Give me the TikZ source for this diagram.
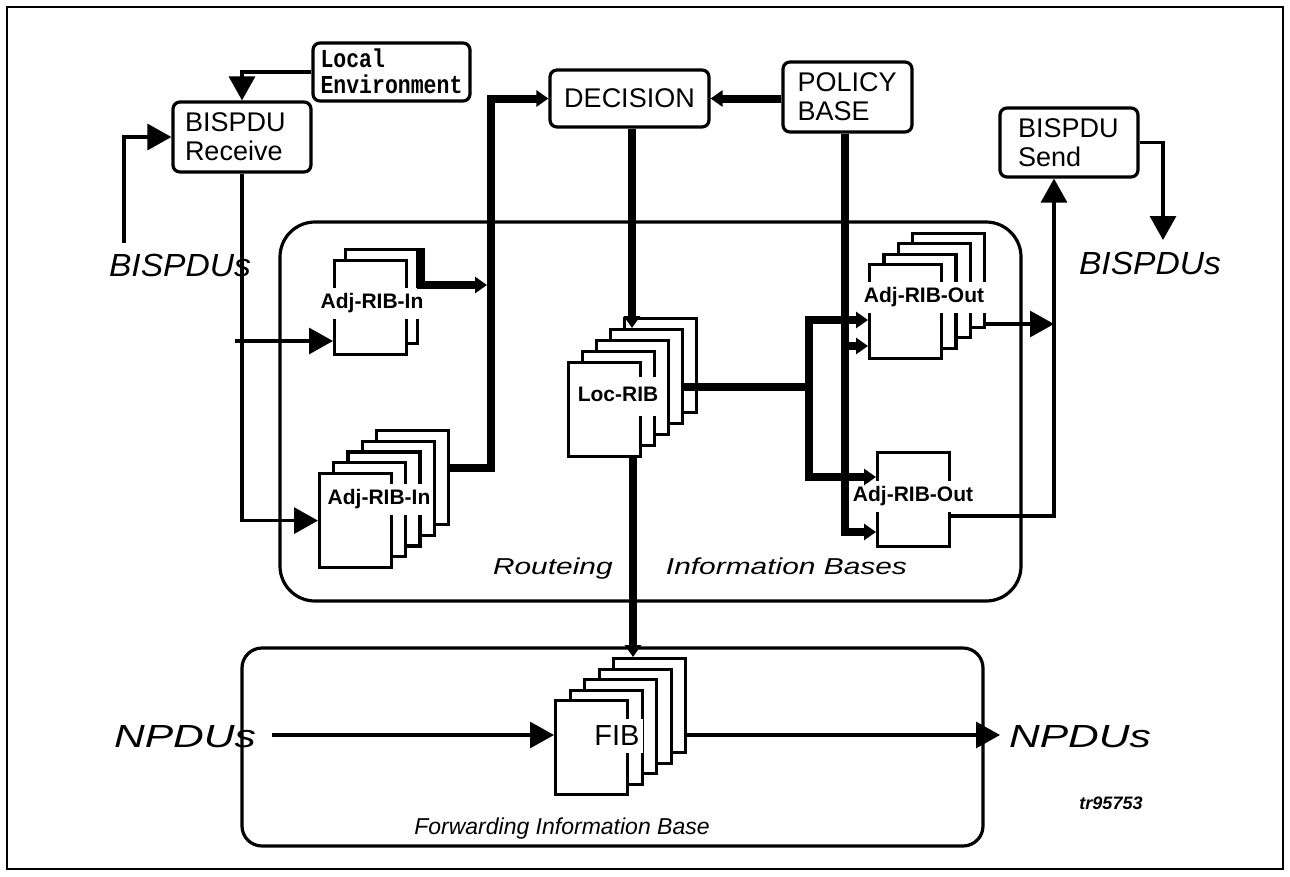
\documentclass[tikz,border=0pt]{standalone}
\usepackage{fontspec}
\usepackage{graphicx}
\setmainfont{Liberation Sans}
\newfontfamily\lemono{Liberation Mono}
\usetikzlibrary{arrows.meta,calc}
\begin{document}
\begin{tikzpicture}[x=1pt,y=-1pt,
  thinline/.style={line width=3.2pt},
  thickline/.style={line width=8pt, line join=miter},
  bigarrow/.style={-{Triangle[length=24pt,width=26pt]}},
  smallarrow/.style={-{Triangle[length=12pt,width=16pt]}},
  box/.style={draw, line width=3.2pt, rounded corners=7pt, fill=white, font=\fontsize{27}{29}\selectfont, inner ysep=0pt},
  ribframe/.style={draw, line width=3.2pt},
  pagebox/.style={draw, line width=3.2pt, fill=white, minimum width=72pt, minimum height=94pt, anchor=north west, inner sep=0pt},
  plabel/.style={fill=white, inner xsep=3pt, inner ysep=6pt, text height=15pt, text depth=4pt, font=\bfseries\fontsize{21}{23}\selectfont},
  itlabel/.style={font=\itshape\fontsize{32}{36}\selectfont, inner sep=0pt},
]
\useasboundingbox (0,0) rectangle (1290,876);
\draw[line width=2.2pt] (7,7) rectangle (1283,869);

% frames
\node[ribframe, rounded corners=35pt, minimum width=741pt, minimum height=379pt] (rib) at (650.5,411.5) {};
\node[ribframe, rounded corners=20pt, minimum width=741pt, minimum height=198pt] (fibbox) at (612.5,747) {};

% boxes
\node[box, minimum width=157pt, minimum height=58pt, inner xsep=0pt] (localenv) at (391.5,72) {};
\node[font=\lemono\bfseries\fontsize{21.5}{21.5}\selectfont, inner sep=0pt] (localtxt) at (391.5,75) {\scalebox{1}[1.2]{\begin{tabular}{@{}l@{}}Local\\Environment\end{tabular}}};
\node[box, minimum height=70pt, text width=114pt, inner xsep=12pt, align=left] (recv) at (242,137) {BISPDU\\Receive};
\node[box, minimum width=159pt, minimum height=57pt, inner xsep=0pt] (dec) at (629.5,98.5) {DECISION};
\node[box, minimum height=70pt, text width=100pt, inner xsep=14.5pt, align=left] (pol) at (847.5,97) {POLICY\\BASE};
\node[box, minimum height=69pt, text width=102pt, inner xsep=18pt, align=left] (send) at (1069,142.5) {BISPDU\\Send};

% stacks
\foreach \i in {1,0} {\node[pagebox] (ainA\i) at ({333+11*\i},{259-11*\i}) {};}
\foreach \i in {4,3,2,1,0} {\node[pagebox] (ainB\i) at ({318+14.2*\i},{472-10.8*\i}) {};}
\foreach \i in {4,3,2,1,0} {\node[pagebox] (loc\i) at ({567+14*\i},{361-11*\i}) {};}
\foreach \i in {3,2,1,0} {\node[pagebox] (aoA\i) at ({868+14.3*\i},{263-10.5*\i}) {};}
\node[pagebox] (aoB) at (876,451) {};
\foreach \i in {4,3,2,1,0} {\node[pagebox] (fib\i) at ({554+14.5*\i},{699-10.5*\i}) {};}

% stack labels
\node[plabel] (ainAlab) at (372,303) {Adj-RIB-In};
\node[plabel] (ainBlab) at (379,499) {Adj-RIB-In};
\node[plabel, inner ysep=10pt] (loclab) at (618,396) {Loc-RIB};
\node[plabel] (aoAlab) at (924,297) {Adj-RIB-Out};
\node[plabel] (aoBlab) at (913,496) {Adj-RIB-Out};
\node[fill=white, inner xsep=3pt, inner ysep=7pt, font=\fontsize{29}{31}\selectfont] (fiblab) at (617,736) {FIB};

% free labels
\node[itlabel] (bisL) at (180,265) {\scalebox{1.05}[1]{BISPDUs}};
\node[itlabel] (bisR) at (1150,263.5) {\scalebox{1.05}[1]{BISPDUs}};
\node[itlabel] (npL) at (185,737) {\scalebox{1.33}[1]{NPDUs}};
\node[itlabel] (npR) at (1080,737) {\scalebox{1.33}[1]{NPDUs}};
\node[font=\itshape\fontsize{23}{26}\selectfont, inner sep=0pt] (riblab) at (700,569) {\scalebox{1.3}[1]{Routeing\hspace{41pt}Information Bases}};
\node[font=\itshape\fontsize{23}{26}\selectfont, inner sep=0pt] (fiblabel) at (562,829) {Forwarding Information Base};
\node[font=\bfseries\itshape\fontsize{18}{20}\selectfont, inner sep=0pt] (tr) at (1111,803) {tr95753};

% coordinates
\coordinate (bisin) at (124,243);
\coordinate (inAstart) at (235,341);
\coordinate (trunkA) at (487,285);
\coordinate (trunkB) at (490.5,468);
\coordinate (tr2) at (809,387);
\coordinate (polbr) at (845,346);
\coordinate (sendj) at (1054,516);
\coordinate (bout) at (1163,240);
\coordinate (npin) at (272,735);
\coordinate (npout) at (1000,735);

% thin connectors
\draw[thinline, bigarrow] (localenv.west) -| (recv.north);
\draw[thinline, bigarrow] (bisin) |- (recv.west);
\draw[thinline, bigarrow] (recv.south) |- (ainB0.west);
\draw[thinline, bigarrow] (inAstart) -- (inAstart -| ainA0.west);
\draw[thinline, bigarrow] (aoA3.east |- 0,324) -- (sendj |- 0,324);
\draw[thinline, bigarrow] (aoB.east |- sendj) -- (sendj) -- (sendj |- send.south);
\draw[thinline, bigarrow] (send.east) -| (bout);
\draw[thinline, bigarrow] (npin) -- (npin -| fib0.west);
\draw[thinline, bigarrow] (fib4.east |- npout) -- (npout);

% thick connectors
\draw[thickline, smallarrow] ($(ainA1.north east)+(2,0)$) |- (trunkA);
\draw[thickline, smallarrow] (ainB4.east |- trunkB) -- (trunkB) |- (dec.west);
\draw[thickline, smallarrow] (pol.west |- dec.east) -- (dec.east);
\draw[thickline, smallarrow] (dec.south -| 632,0) -- (loc3.north -| 632,0);
\draw[thickline] (loc3.east |- tr2) -- (tr2);
\draw[thickline, smallarrow] (tr2) |- (aoA0.west |- 0,320);
\draw[thickline, smallarrow] (tr2) |- (aoB.west |- 0,477);
\draw[thickline, smallarrow] (pol.south -| polbr) |- (aoB.west |- 0,532);
\draw[thickline, smallarrow] (polbr) -- (aoA0.west |- polbr);
\draw[thickline, smallarrow] (loc0.south -| 633,0) -- (fib4.north -| 633,0);
\end{tikzpicture}
\end{document}
